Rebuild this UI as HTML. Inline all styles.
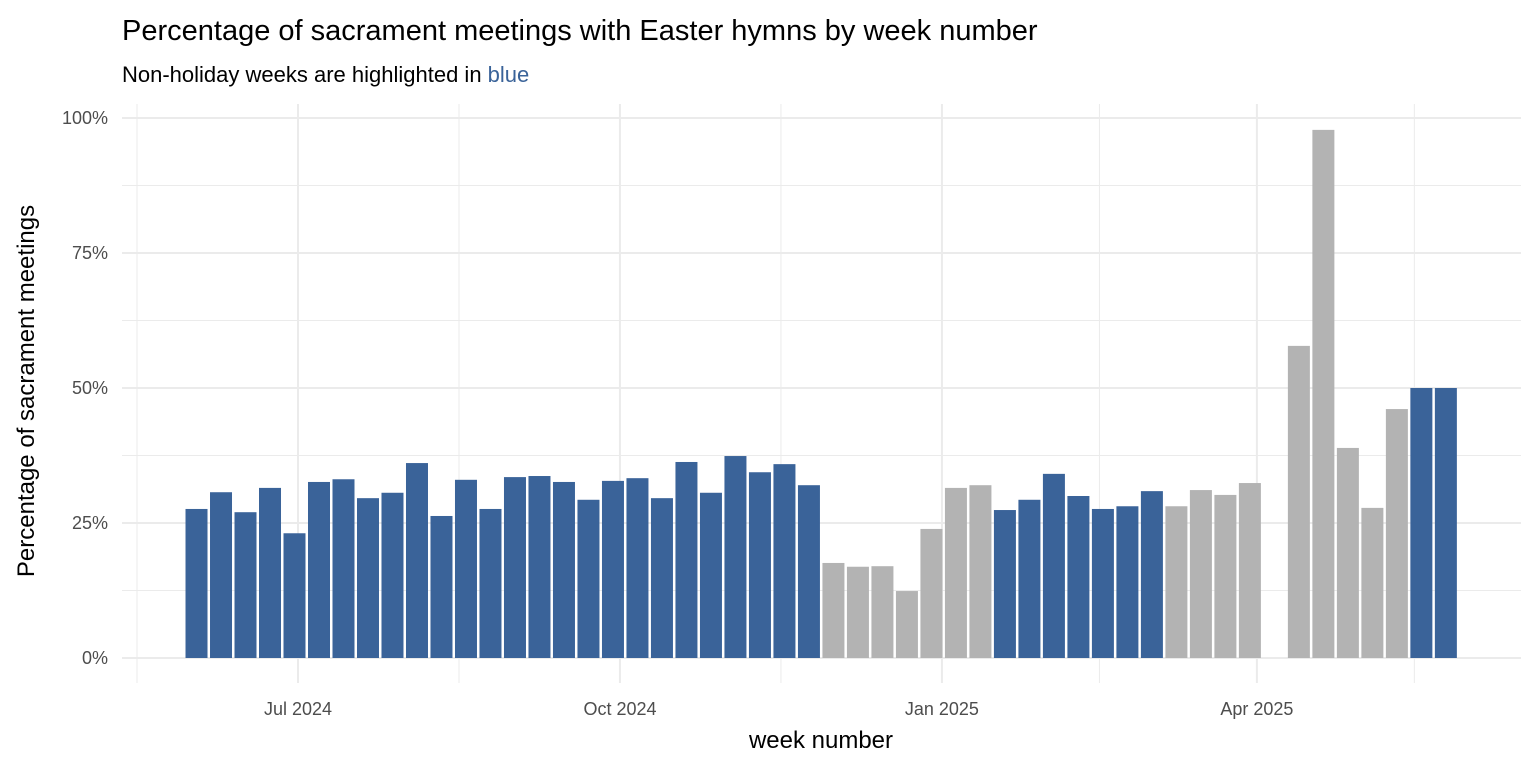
<!DOCTYPE html>
<html><head><meta charset="utf-8"><style>
html,body{margin:0;padding:0;background:#fff;}
svg{display:block;font-family:"Liberation Sans",Arial,sans-serif;}
</style></head><body>
<svg id="chart" width="1536" height="768" viewBox="0 0 1536 768" xmlns="http://www.w3.org/2000/svg">
<text x="122" y="40" font-size="29" fill="#000">Percentage of sacrament meetings with Easter hymns by week number</text>
<text x="122" y="82" font-size="22" fill="#000">Non-holiday weeks are highlighted in <tspan fill="#3a6399">blue</tspan></text>
<g id="grid"></g>
<g id="bars"></g>
<g id="axes"></g>
<text x="821" y="748" font-size="24" text-anchor="middle" fill="#000">week number</text>
<text transform="translate(34,391) rotate(-90)" font-size="24" text-anchor="middle" fill="#000">Percentage of sacrament meetings</text>
</svg>
<script>
const weekStart = "2024-06-02";
const values = [27.6,30.7,27.0,31.5,23.1,32.6,33.1,29.6,30.6,36.1,26.3,33.0,27.6,33.5,33.7,32.6,29.3,32.8,33.3,29.6,36.3,30.6,37.4,34.4,35.9,32.0,
17.6,16.9,17.0,12.4,23.9,31.5,32.0,27.4,29.3,34.1,30.0,27.6,28.1,30.9,28.1,31.1,30.2,32.4,null,57.8,97.8,38.9,27.8,46.1,50.0,50.0];
const nonHoliday = [1,1,1,1,1,1,1,1,1,1,1,1,1,1,1,1,1,1,1,1,1,1,1,1,1,1,
0,0,0,0,0,0,0,1,1,1,1,1,1,1,0,0,0,0,0,0,0,0,0,0,1,1];
const yTicks = [0,25,50,75,100];
const yTickLabels = ["0%","25%","50%","75%","100%"];
const xMajorDates = ["2024-07-01","2024-10-01","2025-01-01","2025-04-01"];
const xMajorLabels = ["Jul 2024","Oct 2024","Jan 2025","Apr 2025"];
const xMinorDates = ["2024-05-16","2024-08-16","2024-11-16","2025-02-15","2025-05-16"];

const NS="http://www.w3.org/2000/svg";
const DAY=86400000, origin=Date.parse("2024-07-01");
function x(d){return 298+(Date.parse(d)-origin)/DAY*3.4996;}
function y(v){return 658-v*5.4;}
const PL=122,PR=1521,PT=104,PB=683;
function mk(tag,attrs,parent){const e=document.createElementNS(NS,tag);for(const k in attrs)e.setAttribute(k,attrs[k]);parent.appendChild(e);return e;}
const grid=document.getElementById('grid'),bars=document.getElementById('bars'),axes=document.getElementById('axes');
// minor y
for(let i=0;i<yTicks.length-1;i++){const v=(yTicks[i]+yTicks[i+1])/2;
 const l=mk('line',{x1:PL,x2:PR,y1:y(v),y2:y(v),stroke:'#ebebeb','stroke-width':1},grid);
 
 }
xMinorDates.forEach(d=>{const l=mk('line',{x1:x(d),x2:x(d),y1:PT,y2:PB,stroke:'#ebebeb','stroke-width':1},grid);
 
 });
yTicks.forEach((v,i)=>{const l=mk('line',{x1:PL,x2:PR,y1:y(v),y2:y(v),stroke:'#ebebeb','stroke-width':2},grid);
 
 
 const t=mk('text',{x:108,y:y(v)+6,'font-size':18,'text-anchor':'end',fill:'#4d4d4d'},axes);t.textContent=yTickLabels[i];
 
 });
xMajorDates.forEach((d,i)=>{const l=mk('line',{x1:x(d),x2:x(d),y1:PT,y2:PB,stroke:'#ebebeb','stroke-width':2},grid);
 
 
 const t=mk('text',{x:x(d),y:715,'font-size':18,'text-anchor':'middle',fill:'#4d4d4d'},axes);t.textContent=xMajorLabels[i];
 
 });
const start=Date.parse(weekStart);
values.forEach((v,i)=>{if(v==null)return;
 const d=new Date(start+i*7*DAY).toISOString().slice(0,10);
 const cx=x(d);
 const r=mk('rect',{x:cx-11,y:y(v),width:22,height:y(0)-y(v),fill:nonHoliday[i]?'#3a6399':'#b3b3b3'},bars);
 
 });
</script>
</body></html>
